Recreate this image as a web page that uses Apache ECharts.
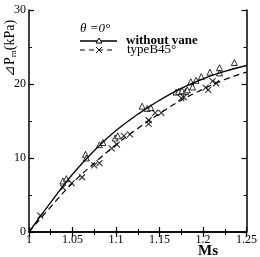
<!DOCTYPE html>
<html>
<head>
<meta charset="utf-8">
<script src="https://cdn.jsdelivr.net/npm/echarts@6/dist/echarts.min.js"></script>
<style>
  html, body { margin: 0; padding: 0; background: #fff; }
  #chart { width: 260px; height: 257px; }
</style>
</head>
<body>
<div id="chart"></div>
<script>
// fitted curves
var curveMs = [1, 1.025, 1.05, 1.075, 1.1, 1.125, 1.15, 1.175, 1.2, 1.225, 1.25];
var curveWithout = [0, 4.0, 7.8, 11.0, 13.7, 15.9, 17.8, 19.4, 20.7, 21.7, 22.5];
var curveTypeB = [0, 3.4, 6.6, 9.3, 11.8, 14.0, 16.0, 17.8, 19.3, 20.6, 21.6];

// measured points, without vane (triangles)
var withoutMs = [1.039, 1.043, 1.065, 1.066, 1.081, 1.085, 1.099, 1.102, 1.13, 1.136, 1.14,
  1.169, 1.172, 1.176, 1.18, 1.182, 1.186, 1.188, 1.192, 1.198, 1.208, 1.219, 1.219, 1.236];
var withoutP = [6.9, 7.2, 10.5, 10.0, 11.8, 12.1, 12.7, 13.0, 17.0, 16.7, 16.8,
  18.9, 19.0, 19.1, 19.0, 19.2, 20.3, 19.6, 20.5, 21.0, 21.6, 22.2, 21.5, 22.9];

// measured points, typeB45 (crosses)
var typeBMs = [1.013, 1.039, 1.049, 1.061, 1.075, 1.081, 1.095, 1.101, 1.109, 1.116,
  1.1375, 1.1375, 1.145, 1.152, 1.175, 1.178, 1.203, 1.206, 1.211, 1.215];
var typeBP = [2.2, 6.0, 6.6, 7.4, 9.0, 9.3, 11.3, 11.8, 13.0, 13.2,
  15.1, 14.6, 16.1, 16.1, 18.1, 18.2, 19.5, 19.2, 20.4, 20.1];

function pairs(xs, ys) {
  return xs.map(function (x, i) { return [x, ys[i]]; });
}

var serif = '"Liberation Serif", "DejaVu Serif", serif';
var crossPath = 'path://M0,0L10,10M10,0L0,10';

var chart = echarts.init(document.getElementById('chart'), null, { renderer: 'canvas' });

var axisCommon = {
  type: 'value',
  axisLine: { show: true, lineStyle: { color: '#000', width: 1.5 } },
  axisTick: { show: true, inside: true, length: 5, lineStyle: { color: '#000', width: 1.2 } },
  minorTick: { show: true, splitNumber: 2, length: 3, lineStyle: { color: '#000', width: 1 } },
  splitLine: { show: false }
};

chart.setOption({
  animation: false,
  grid: { left: 29, right: 12, top: 10, bottom: 25 },
  xAxis: [
    Object.assign({}, axisCommon, {
      min: 1, max: 1.25, interval: 0.05,
      axisLabel: {
        color: '#000', fontFamily: serif, fontSize: 12, margin: 2,
        formatter: function (v) { return String(+v.toFixed(2)); }
      }
    }),
    Object.assign({}, axisCommon, {
      position: 'top', min: 1, max: 1.25, interval: 0.05,
      axisLabel: { show: false }
    })
  ],
  yAxis: [
    Object.assign({}, axisCommon, {
      min: 0, max: 30, interval: 10,
      axisLabel: { color: '#000', fontFamily: serif, fontSize: 12, margin: 3 }
    }),
    Object.assign({}, axisCommon, {
      position: 'right', min: 0, max: 30, interval: 10,
      axisLabel: { show: false }
    })
  ],
  series: [
    {
      name: 'without vane', type: 'line', smooth: true, symbol: 'none',
      data: pairs(curveMs, curveWithout),
      lineStyle: { color: '#000', width: 1.3 }
    },
    {
      name: 'typeB45°', type: 'line', smooth: true, symbol: 'none',
      data: pairs(curveMs, curveTypeB),
      lineStyle: { color: '#000', width: 1.2, type: [6, 4] }
    },
    {
      type: 'scatter', symbol: 'triangle', symbolSize: 6,
      data: pairs(withoutMs, withoutP),
      itemStyle: { color: '#fff', borderColor: '#000', borderWidth: 1 }
    },
    {
      type: 'scatter', symbol: crossPath, symbolSize: 6,
      data: pairs(typeBMs, typeBP),
      itemStyle: { color: 'none', borderColor: '#000', borderWidth: 1.1 }
    }
  ],
  graphic: [
    {
      type: 'text', x: 3, y: 77, rotation: Math.PI / 2,
      style: {
        text: '{a|⊿P}{s|m}{a|(kPa)}',
        fill: '#000',
        rich: {
          a: { fontFamily: serif, fontSize: 14, fill: '#000' },
          s: { fontFamily: serif, fontSize: 9, fill: '#000', padding: [6, 0, 0, 0] }
        }
      }
    },
    {
      type: 'text', x: 198, y: 244,
      style: { text: 'Ms', fontFamily: serif, fontSize: 15, fontWeight: 'bold', fill: '#000' }
    },
    {
      type: 'text', x: 80, y: 22,
      style: { text: 'θ =0°', fontFamily: serif, fontSize: 13, fontStyle: 'italic', fill: '#000' }
    },
    { type: 'line', shape: { x1: 80, y1: 41, x2: 117, y2: 41 }, style: { stroke: '#000', lineWidth: 1.3 } },
    { type: 'polygon', shape: { points: [[99, 38], [102, 43], [96, 43]] }, style: { fill: '#fff', stroke: '#000', lineWidth: 1 } },
    {
      type: 'text', x: 126, y: 34,
      style: { text: 'without vane', fontFamily: serif, fontSize: 13, fontWeight: 'bold', fill: '#000' }
    },
    { type: 'line', shape: { x1: 80, y1: 50, x2: 116, y2: 50 }, style: { stroke: '#000', lineWidth: 1.2, lineDash: [5, 4] } },
    { type: 'line', shape: { x1: 96, y1: 47, x2: 102, y2: 53 }, style: { stroke: '#000', lineWidth: 1 } },
    { type: 'line', shape: { x1: 102, y1: 47, x2: 96, y2: 53 }, style: { stroke: '#000', lineWidth: 1 } },
    {
      type: 'text', x: 127, y: 43,
      style: { text: 'typeB45°', fontFamily: serif, fontSize: 13, fill: '#000' }
    }
  ]
});
</script>
</body>
</html>
